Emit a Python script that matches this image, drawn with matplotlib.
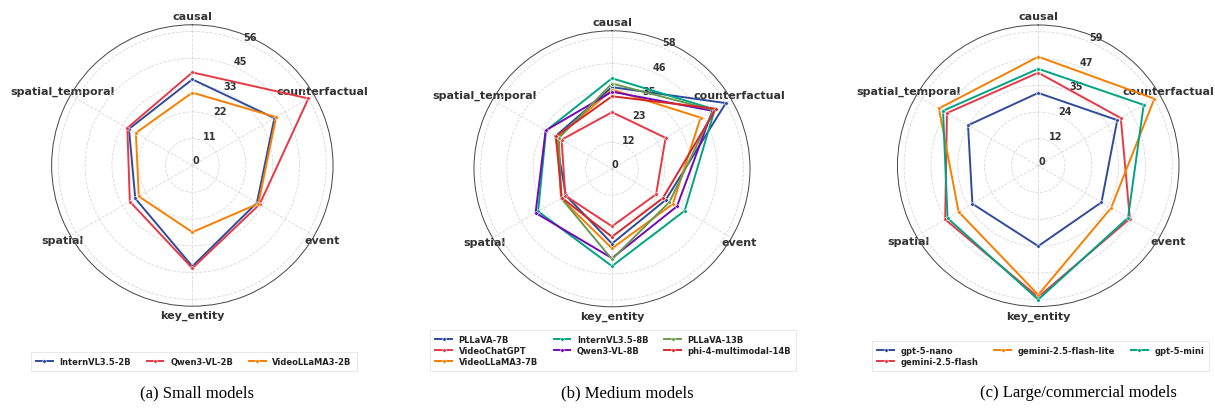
import matplotlib
matplotlib.use("Agg")
import matplotlib.pyplot as plt
import numpy as np

categories = ['causal', 'counterfactual', 'event', 'key_entity', 'spatial', 'spatial_temporal']

# (a) small models
small_names = ['InternVL3.5-2B', 'Qwen3-VL-2B', 'VideoLLaMA3-2B']
internvl_2b = [35.8, 39.4, 31.0, 41.9, 27.4, 30.4]
qwen_2b = [38.7, 55.7, 32.3, 42.7, 30.0, 31.2]
videollama_2b = [30.3, 40.2, 31.7, 27.7, 25.7, 27.1]

# (b) medium models
medium_names = ['PLLaVA-7B', 'VideoChatGPT', 'VideoLLaMA3-7B', 'InternVL3.5-8B',
                'Qwen3-VL-8B', 'PLLaVA-13B', 'phi-4-multimodal-14B']
pllava_7b = [35.9, 57.8, 27.3, 32.9, 23.4, 28.7]
videochatgpt = [24.9, 27.2, 22.4, 25.3, 23.7, 25.6]
videollama_7b = [34.8, 45.0, 30.9, 35.0, 25.9, 27.7]
internvl_8b = [39.8, 52.2, 36.9, 42.8, 37.5, 33.5]
qwen_8b = [33.9, 51.0, 33.0, 39.3, 38.8, 33.7]
pllava_13b = [37.5, 51.6, 29.2, 39.8, 25.8, 27.0]
phi4_14b = [31.9, 52.8, 25.8, 29.9, 25.5, 28.5]

# (c) large / commercial models
large_names = ['gpt-5-nano', 'gemini-2.5-flash', 'gemini-2.5-flash-lite', 'gpt-5-mini']
gpt5_nano = [32.0, 40.1, 32.1, 35.3, 33.4, 35.6]
gemini_flash = [40.9, 41.9, 46.5, 57.7, 47.2, 46.3]
gemini_lite = [47.9, 58.9, 37.0, 56.7, 40.4, 50.4]
gpt5_mini = [42.6, 53.5, 45.6, 58.8, 46.0, 48.3]

captions = ['(a) Small models', '(b) Medium models', '(c) Large/commercial models']

palette = ['#2F4B9A', '#E63946', '#F77F00', '#00A383', '#7209B7', '#6A994E', '#D62828']

panels = [
    (small_names, [internvl_2b, qwen_2b, videollama_2b]),
    (medium_names, [pllava_7b, videochatgpt, videollama_7b, internvl_8b, qwen_8b, pllava_13b, phi4_14b]),
    (large_names, [gpt5_nano, gemini_flash, gemini_lite, gpt5_mini]),
]

# axes boxes in figure fraction, legend/caption x centres
boxes = [[0.0425, 0.258, 0.2316, 0.6797],
         [0.3901, 0.2565, 0.2272, 0.6667],
         [0.7386, 0.2572, 0.2318, 0.680]]
leg_x = [0.1595, 0.5047, 0.8565]
cap_x = [0.1625, 0.516, 0.8875]

W, H = 1215, 414
fig = plt.figure(figsize=(W / 100, H / 100), dpi=100)

angles = np.linspace(0, 2 * np.pi, len(categories), endpoint=False)
angles_closed = np.concatenate([angles, angles[:1]])

for k, (names, series) in enumerate(panels):
    ax = fig.add_axes(boxes[k], projection='polar')
    ax.set_theta_zero_location('N')
    ax.set_theta_direction(-1)

    for i, (name, vals) in enumerate(zip(names, series)):
        v = np.concatenate([vals, vals[:1]])
        ax.plot(angles_closed, v, color=palette[i], lw=1.4, marker='o', ms=2.6,
                mec='white', mew=0.4, label=name)

    rmax = max(max(s) for s in series)
    ticks = np.linspace(0, rmax, 6)
    ax.set_ylim(0, rmax * 1.05)
    ax.set_yticks(ticks)
    ax.set_yticklabels([f"{t:.0f}" for t in ticks], fontsize=7, fontweight='bold', color='#333333')
    ax.set_xticks(angles)
    ax.set_xticklabels(categories, fontsize=8, fontweight='bold', color='#333333')
    ax.tick_params(axis='x', pad=-4)
    ax.grid(True, linestyle='--', color='#d9d9d9', linewidth=0.6)
    ax.spines['polar'].set_color('#444444')
    ax.spines['polar'].set_linewidth(0.7)

    leg = ax.legend(loc='lower center', bbox_to_anchor=(leg_x[k], 1 - 372 / H),
                    bbox_transform=fig.transFigure, ncol=3, borderaxespad=0,
                    prop={'weight': 'bold', 'size': 6}, frameon=True, fancybox=False,
                    handlelength=2.0, columnspacing=1.9, borderpad=0.6, labelspacing=0.25)
    leg.get_frame().set_edgecolor('#dddddd')
    leg.get_frame().set_linewidth(0.6)
    for t in leg.get_texts():
        t.set_color('#222222')

    fig.text(cap_x[k], 1 - 393 / H, captions[k], ha='center', va='center',
             fontsize=12, family='Liberation Serif')

fig.savefig('out.png', dpi=100)
